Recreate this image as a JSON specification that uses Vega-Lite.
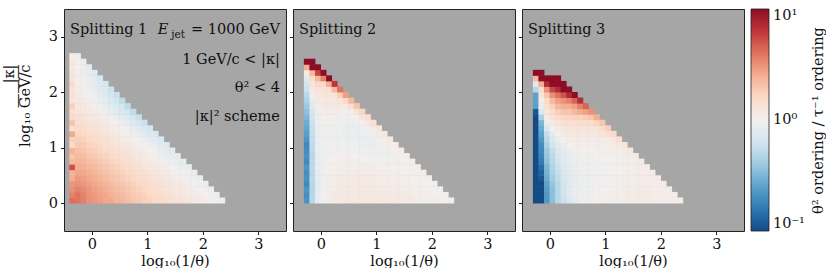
{
"$schema":"https://vega.github.io/schema/vega-lite/v6.json",
"padding":{"left":0,"top":8,"right":0,"bottom":0},
"background":"white",
"config":{"font":"DejaVu Serif","view":{"stroke":"#222","strokeWidth":1,"fill":"#a6a6a6"},
"axis":{"labelFont":"DejaVu Serif","titleFont":"DejaVu Serif","labelFontSize":14.5,"titleFontSize":14.5,"titleFontWeight":"normal","labelColor":"#111","titleColor":"#111","tickColor":"#222","tickSize":3.5,"domain":false,"grid":false,"labelPadding":3},
"text":{"font":"DejaVu Serif","fontSize":14.5,"color":"#111"}},
"datasets":{
"s1":[
{"x":-0.35,"y":0.05,"lr":0.62},{"x":-0.25,"y":0.05,"lr":0.6},{"x":-0.15,"y":0.05,"lr":0.56},{"x":-0.05,"y":0.05,"lr":0.5},{"x":0.05,"y":0.05,"lr":0.48},{"x":0.15,"y":0.05,"lr":0.46},{"x":0.25,"y":0.05,"lr":0.42},{"x":0.35,"y":0.05,"lr":0.42},{"x":0.45,"y":0.05,"lr":0.38},{"x":0.55,"y":0.05,"lr":0.36},{"x":0.65,"y":0.05,"lr":0.33},{"x":0.75,"y":0.05,"lr":0.3},{"x":0.85,"y":0.05,"lr":0.28},{"x":0.95,"y":0.05,"lr":0.25},{"x":1.05,"y":0.05,"lr":0.24},{"x":1.15,"y":0.05,"lr":0.2},{"x":1.25,"y":0.05,"lr":0.18},{"x":1.35,"y":0.05,"lr":0.16},{"x":1.45,"y":0.05,"lr":0.14},{"x":1.55,"y":0.05,"lr":0.12},{"x":1.65,"y":0.05,"lr":0.1},{"x":1.75,"y":0.05,"lr":0.08},{"x":1.85,"y":0.05,"lr":0.06},{"x":1.95,"y":0.05,"lr":0.04},{"x":2.05,"y":0.05,"lr":0.03},{"x":2.15,"y":0.05,"lr":0.01},{"x":2.25,"y":0.05,"lr":0},{"x":2.35,"y":0.05,"lr":-0.03},
{"x":-0.35,"y":0.15,"lr":0.55},{"x":-0.25,"y":0.15,"lr":0.6},{"x":-0.15,"y":0.15,"lr":0.55},{"x":-0.05,"y":0.15,"lr":0.5},{"x":0.05,"y":0.15,"lr":0.47},{"x":0.15,"y":0.15,"lr":0.44},{"x":0.25,"y":0.15,"lr":0.42},{"x":0.35,"y":0.15,"lr":0.38},{"x":0.45,"y":0.15,"lr":0.36},{"x":0.55,"y":0.15,"lr":0.34},{"x":0.65,"y":0.15,"lr":0.31},{"x":0.75,"y":0.15,"lr":0.28},{"x":0.85,"y":0.15,"lr":0.26},{"x":0.95,"y":0.15,"lr":0.24},{"x":1.05,"y":0.15,"lr":0.21},{"x":1.15,"y":0.15,"lr":0.19},{"x":1.25,"y":0.15,"lr":0.17},{"x":1.35,"y":0.15,"lr":0.14},{"x":1.45,"y":0.15,"lr":0.12},{"x":1.55,"y":0.15,"lr":0.1},{"x":1.65,"y":0.15,"lr":0.08},{"x":1.75,"y":0.15,"lr":0.06},{"x":1.85,"y":0.15,"lr":0.04},{"x":1.95,"y":0.15,"lr":0.02},{"x":2.05,"y":0.15,"lr":0},{"x":2.15,"y":0.15,"lr":-0.01},{"x":2.25,"y":0.15,"lr":-0.03},
{"x":-0.35,"y":0.25,"lr":0.5},{"x":-0.25,"y":0.25,"lr":0.55},{"x":-0.15,"y":0.25,"lr":0.52},{"x":-0.05,"y":0.25,"lr":0.48},{"x":0.05,"y":0.25,"lr":0.45},{"x":0.15,"y":0.25,"lr":0.42},{"x":0.25,"y":0.25,"lr":0.4},{"x":0.35,"y":0.25,"lr":0.36},{"x":0.45,"y":0.25,"lr":0.34},{"x":0.55,"y":0.25,"lr":0.31},{"x":0.65,"y":0.25,"lr":0.29},{"x":0.75,"y":0.25,"lr":0.26},{"x":0.85,"y":0.25,"lr":0.24},{"x":0.95,"y":0.25,"lr":0.21},{"x":1.05,"y":0.25,"lr":0.19},{"x":1.15,"y":0.25,"lr":0.17},{"x":1.25,"y":0.25,"lr":0.14},{"x":1.35,"y":0.25,"lr":0.12},{"x":1.45,"y":0.25,"lr":0.1},{"x":1.55,"y":0.25,"lr":0.08},{"x":1.65,"y":0.25,"lr":0.06},{"x":1.75,"y":0.25,"lr":0.04},{"x":1.85,"y":0.25,"lr":0.02},{"x":1.95,"y":0.25,"lr":0},{"x":2.05,"y":0.25,"lr":-0.03},{"x":2.15,"y":0.25,"lr":-0.04},
{"x":-0.35,"y":0.35,"lr":0.48},{"x":-0.25,"y":0.35,"lr":0.5},{"x":-0.15,"y":0.35,"lr":0.48},{"x":-0.05,"y":0.35,"lr":0.45},{"x":0.05,"y":0.35,"lr":0.42},{"x":0.15,"y":0.35,"lr":0.4},{"x":0.25,"y":0.35,"lr":0.37},{"x":0.35,"y":0.35,"lr":0.34},{"x":0.45,"y":0.35,"lr":0.31},{"x":0.55,"y":0.35,"lr":0.29},{"x":0.65,"y":0.35,"lr":0.26},{"x":0.75,"y":0.35,"lr":0.24},{"x":0.85,"y":0.35,"lr":0.21},{"x":0.95,"y":0.35,"lr":0.19},{"x":1.05,"y":0.35,"lr":0.17},{"x":1.15,"y":0.35,"lr":0.14},{"x":1.25,"y":0.35,"lr":0.12},{"x":1.35,"y":0.35,"lr":0.1},{"x":1.45,"y":0.35,"lr":0.08},{"x":1.55,"y":0.35,"lr":0.06},{"x":1.65,"y":0.35,"lr":0.04},{"x":1.75,"y":0.35,"lr":0.02},{"x":1.85,"y":0.35,"lr":0},{"x":1.95,"y":0.35,"lr":-0.03},{"x":2.05,"y":0.35,"lr":-0.04},
{"x":-0.35,"y":0.45,"lr":0.4},{"x":-0.25,"y":0.45,"lr":0.47},{"x":-0.15,"y":0.45,"lr":0.45},{"x":-0.05,"y":0.45,"lr":0.42},{"x":0.05,"y":0.45,"lr":0.4},{"x":0.15,"y":0.45,"lr":0.37},{"x":0.25,"y":0.45,"lr":0.34},{"x":0.35,"y":0.45,"lr":0.31},{"x":0.45,"y":0.45,"lr":0.29},{"x":0.55,"y":0.45,"lr":0.26},{"x":0.65,"y":0.45,"lr":0.24},{"x":0.75,"y":0.45,"lr":0.21},{"x":0.85,"y":0.45,"lr":0.19},{"x":0.95,"y":0.45,"lr":0.16},{"x":1.05,"y":0.45,"lr":0.14},{"x":1.15,"y":0.45,"lr":0.12},{"x":1.25,"y":0.45,"lr":0.1},{"x":1.35,"y":0.45,"lr":0.07},{"x":1.45,"y":0.45,"lr":0.05},{"x":1.55,"y":0.45,"lr":0.03},{"x":1.65,"y":0.45,"lr":0.01},{"x":1.75,"y":0.45,"lr":-0.01},{"x":1.85,"y":0.45,"lr":-0.04},{"x":1.95,"y":0.45,"lr":-0.05},
{"x":-0.35,"y":0.55,"lr":0.38},{"x":-0.25,"y":0.55,"lr":0.43},{"x":-0.15,"y":0.55,"lr":0.42},{"x":-0.05,"y":0.55,"lr":0.39},{"x":0.05,"y":0.55,"lr":0.37},{"x":0.15,"y":0.55,"lr":0.34},{"x":0.25,"y":0.55,"lr":0.31},{"x":0.35,"y":0.55,"lr":0.29},{"x":0.45,"y":0.55,"lr":0.26},{"x":0.55,"y":0.55,"lr":0.24},{"x":0.65,"y":0.55,"lr":0.21},{"x":0.75,"y":0.55,"lr":0.19},{"x":0.85,"y":0.55,"lr":0.16},{"x":0.95,"y":0.55,"lr":0.14},{"x":1.05,"y":0.55,"lr":0.12},{"x":1.15,"y":0.55,"lr":0.09},{"x":1.25,"y":0.55,"lr":0.07},{"x":1.35,"y":0.55,"lr":0.05},{"x":1.45,"y":0.55,"lr":0.03},{"x":1.55,"y":0.55,"lr":0.01},{"x":1.65,"y":0.55,"lr":-0.01},{"x":1.75,"y":0.55,"lr":-0.04},{"x":1.85,"y":0.55,"lr":-0.07},
{"x":-0.35,"y":0.65,"lr":0.72},{"x":-0.25,"y":0.65,"lr":0.4},{"x":-0.15,"y":0.65,"lr":0.39},{"x":-0.05,"y":0.65,"lr":0.36},{"x":0.05,"y":0.65,"lr":0.34},{"x":0.15,"y":0.65,"lr":0.31},{"x":0.25,"y":0.65,"lr":0.29},{"x":0.35,"y":0.65,"lr":0.26},{"x":0.45,"y":0.65,"lr":0.24},{"x":0.55,"y":0.65,"lr":0.21},{"x":0.65,"y":0.65,"lr":0.19},{"x":0.75,"y":0.65,"lr":0.16},{"x":0.85,"y":0.65,"lr":0.14},{"x":0.95,"y":0.65,"lr":0.11},{"x":1.05,"y":0.65,"lr":0.09},{"x":1.15,"y":0.65,"lr":0.07},{"x":1.25,"y":0.65,"lr":0.04},{"x":1.35,"y":0.65,"lr":0.02},{"x":1.45,"y":0.65,"lr":0},{"x":1.55,"y":0.65,"lr":-0.03},{"x":1.65,"y":0.65,"lr":-0.05},{"x":1.75,"y":0.65,"lr":-0.07},
{"x":-0.35,"y":0.75,"lr":0.35},{"x":-0.25,"y":0.75,"lr":0.37},{"x":-0.15,"y":0.75,"lr":0.36},{"x":-0.05,"y":0.75,"lr":0.33},{"x":0.05,"y":0.75,"lr":0.31},{"x":0.15,"y":0.75,"lr":0.28},{"x":0.25,"y":0.75,"lr":0.26},{"x":0.35,"y":0.75,"lr":0.23},{"x":0.45,"y":0.75,"lr":0.21},{"x":0.55,"y":0.75,"lr":0.18},{"x":0.65,"y":0.75,"lr":0.16},{"x":0.75,"y":0.75,"lr":0.13},{"x":0.85,"y":0.75,"lr":0.11},{"x":0.95,"y":0.75,"lr":0.08},{"x":1.05,"y":0.75,"lr":0.06},{"x":1.15,"y":0.75,"lr":0.04},{"x":1.25,"y":0.75,"lr":0.01},{"x":1.35,"y":0.75,"lr":-0.01},{"x":1.45,"y":0.75,"lr":-0.04},{"x":1.55,"y":0.75,"lr":-0.07},{"x":1.65,"y":0.75,"lr":-0.08},
{"x":-0.35,"y":0.85,"lr":0.3},{"x":-0.25,"y":0.85,"lr":0.34},{"x":-0.15,"y":0.85,"lr":0.33},{"x":-0.05,"y":0.85,"lr":0.3},{"x":0.05,"y":0.85,"lr":0.28},{"x":0.15,"y":0.85,"lr":0.25},{"x":0.25,"y":0.85,"lr":0.23},{"x":0.35,"y":0.85,"lr":0.2},{"x":0.45,"y":0.85,"lr":0.18},{"x":0.55,"y":0.85,"lr":0.15},{"x":0.65,"y":0.85,"lr":0.13},{"x":0.75,"y":0.85,"lr":0.1},{"x":0.85,"y":0.85,"lr":0.08},{"x":0.95,"y":0.85,"lr":0.05},{"x":1.05,"y":0.85,"lr":0.03},{"x":1.15,"y":0.85,"lr":0.01},{"x":1.25,"y":0.85,"lr":-0.03},{"x":1.35,"y":0.85,"lr":-0.05},{"x":1.45,"y":0.85,"lr":-0.08},{"x":1.55,"y":0.85,"lr":-0.09},
{"x":-0.35,"y":0.95,"lr":0.38},{"x":-0.25,"y":0.95,"lr":0.31},{"x":-0.15,"y":0.95,"lr":0.3},{"x":-0.05,"y":0.95,"lr":0.27},{"x":0.05,"y":0.95,"lr":0.25},{"x":0.15,"y":0.95,"lr":0.22},{"x":0.25,"y":0.95,"lr":0.2},{"x":0.35,"y":0.95,"lr":0.17},{"x":0.45,"y":0.95,"lr":0.15},{"x":0.55,"y":0.95,"lr":0.12},{"x":0.65,"y":0.95,"lr":0.1},{"x":0.75,"y":0.95,"lr":0.07},{"x":0.85,"y":0.95,"lr":0.05},{"x":0.95,"y":0.95,"lr":0.02},{"x":1.05,"y":0.95,"lr":0},{"x":1.15,"y":0.95,"lr":-0.03},{"x":1.25,"y":0.95,"lr":-0.07},{"x":1.35,"y":0.95,"lr":-0.09},{"x":1.45,"y":0.95,"lr":-0.11},
{"x":-0.35,"y":1.05,"lr":0.2},{"x":-0.25,"y":1.05,"lr":0.28},{"x":-0.15,"y":1.05,"lr":0.27},{"x":-0.05,"y":1.05,"lr":0.24},{"x":0.05,"y":1.05,"lr":0.22},{"x":0.15,"y":1.05,"lr":0.19},{"x":0.25,"y":1.05,"lr":0.17},{"x":0.35,"y":1.05,"lr":0.14},{"x":0.45,"y":1.05,"lr":0.12},{"x":0.55,"y":1.05,"lr":0.09},{"x":0.65,"y":1.05,"lr":0.07},{"x":0.75,"y":1.05,"lr":0.04},{"x":0.85,"y":1.05,"lr":0.02},{"x":0.95,"y":1.05,"lr":-0.01},{"x":1.05,"y":1.05,"lr":-0.04},{"x":1.15,"y":1.05,"lr":-0.07},{"x":1.25,"y":1.05,"lr":-0.11},{"x":1.35,"y":1.05,"lr":-0.12},
{"x":-0.35,"y":1.15,"lr":0.25},{"x":-0.25,"y":1.15,"lr":0.25},{"x":-0.15,"y":1.15,"lr":0.24},{"x":-0.05,"y":1.15,"lr":0.21},{"x":0.05,"y":1.15,"lr":0.19},{"x":0.15,"y":1.15,"lr":0.16},{"x":0.25,"y":1.15,"lr":0.14},{"x":0.35,"y":1.15,"lr":0.11},{"x":0.45,"y":1.15,"lr":0.09},{"x":0.55,"y":1.15,"lr":0.06},{"x":0.65,"y":1.15,"lr":0.04},{"x":0.75,"y":1.15,"lr":0.01},{"x":0.85,"y":1.15,"lr":-0.01},{"x":0.95,"y":1.15,"lr":-0.05},{"x":1.05,"y":1.15,"lr":-0.08},{"x":1.15,"y":1.15,"lr":-0.12},{"x":1.25,"y":1.15,"lr":-0.14},
{"x":-0.35,"y":1.25,"lr":0.42},{"x":-0.25,"y":1.25,"lr":0.22},{"x":-0.15,"y":1.25,"lr":0.21},{"x":-0.05,"y":1.25,"lr":0.18},{"x":0.05,"y":1.25,"lr":0.16},{"x":0.15,"y":1.25,"lr":0.13},{"x":0.25,"y":1.25,"lr":0.11},{"x":0.35,"y":1.25,"lr":0.08},{"x":0.45,"y":1.25,"lr":0.06},{"x":0.55,"y":1.25,"lr":0.03},{"x":0.65,"y":1.25,"lr":0.01},{"x":0.75,"y":1.25,"lr":-0.03},{"x":0.85,"y":1.25,"lr":-0.05},{"x":0.95,"y":1.25,"lr":-0.09},{"x":1.05,"y":1.25,"lr":-0.14},{"x":1.15,"y":1.25,"lr":-0.16},
{"x":-0.35,"y":1.35,"lr":0.15},{"x":-0.25,"y":1.35,"lr":0.2},{"x":-0.15,"y":1.35,"lr":0.18},{"x":-0.05,"y":1.35,"lr":0.15},{"x":0.05,"y":1.35,"lr":0.13},{"x":0.15,"y":1.35,"lr":0.1},{"x":0.25,"y":1.35,"lr":0.08},{"x":0.35,"y":1.35,"lr":0.05},{"x":0.45,"y":1.35,"lr":0.03},{"x":0.55,"y":1.35,"lr":0},{"x":0.65,"y":1.35,"lr":-0.03},{"x":0.75,"y":1.35,"lr":-0.07},{"x":0.85,"y":1.35,"lr":-0.11},{"x":0.95,"y":1.35,"lr":-0.15},{"x":1.05,"y":1.35,"lr":-0.19},
{"x":-0.35,"y":1.45,"lr":0.3},{"x":-0.25,"y":1.45,"lr":0.17},{"x":-0.15,"y":1.45,"lr":0.15},{"x":-0.05,"y":1.45,"lr":0.12},{"x":0.05,"y":1.45,"lr":0.1},{"x":0.15,"y":1.45,"lr":0.07},{"x":0.25,"y":1.45,"lr":0.05},{"x":0.35,"y":1.45,"lr":0.02},{"x":0.45,"y":1.45,"lr":0},{"x":0.55,"y":1.45,"lr":-0.04},{"x":0.65,"y":1.45,"lr":-0.08},{"x":0.75,"y":1.45,"lr":-0.12},{"x":0.85,"y":1.45,"lr":-0.16},{"x":0.95,"y":1.45,"lr":-0.22},
{"x":-0.35,"y":1.55,"lr":0.2},{"x":-0.25,"y":1.55,"lr":0.14},{"x":-0.15,"y":1.55,"lr":0.12},{"x":-0.05,"y":1.55,"lr":0.09},{"x":0.05,"y":1.55,"lr":0.07},{"x":0.15,"y":1.55,"lr":0.04},{"x":0.25,"y":1.55,"lr":0.02},{"x":0.35,"y":1.55,"lr":-0.01},{"x":0.45,"y":1.55,"lr":-0.05},{"x":0.55,"y":1.55,"lr":-0.09},{"x":0.65,"y":1.55,"lr":-0.14},{"x":0.75,"y":1.55,"lr":-0.18},{"x":0.85,"y":1.55,"lr":-0.24},
{"x":-0.35,"y":1.65,"lr":0.15},{"x":-0.25,"y":1.65,"lr":0.11},{"x":-0.15,"y":1.65,"lr":0.09},{"x":-0.05,"y":1.65,"lr":0.06},{"x":0.05,"y":1.65,"lr":0.04},{"x":0.15,"y":1.65,"lr":0.01},{"x":0.25,"y":1.65,"lr":-0.03},{"x":0.35,"y":1.65,"lr":-0.07},{"x":0.45,"y":1.65,"lr":-0.11},{"x":0.55,"y":1.65,"lr":-0.15},{"x":0.65,"y":1.65,"lr":-0.19},{"x":0.75,"y":1.65,"lr":-0.27},
{"x":-0.35,"y":1.75,"lr":0.25},{"x":-0.25,"y":1.75,"lr":0.09},{"x":-0.15,"y":1.75,"lr":0.07},{"x":-0.05,"y":1.75,"lr":0.04},{"x":0.05,"y":1.75,"lr":0.01},{"x":0.15,"y":1.75,"lr":-0.03},{"x":0.25,"y":1.75,"lr":-0.07},{"x":0.35,"y":1.75,"lr":-0.11},{"x":0.45,"y":1.75,"lr":-0.15},{"x":0.55,"y":1.75,"lr":-0.19},{"x":0.65,"y":1.75,"lr":-0.27},
{"x":-0.35,"y":1.85,"lr":0.1},{"x":-0.25,"y":1.85,"lr":0.07},{"x":-0.15,"y":1.85,"lr":0.05},{"x":-0.05,"y":1.85,"lr":0.02},{"x":0.05,"y":1.85,"lr":-0.01},{"x":0.15,"y":1.85,"lr":-0.05},{"x":0.25,"y":1.85,"lr":-0.09},{"x":0.35,"y":1.85,"lr":-0.14},{"x":0.45,"y":1.85,"lr":-0.19},{"x":0.55,"y":1.85,"lr":-0.27},
{"x":-0.35,"y":1.95,"lr":0.15},{"x":-0.25,"y":1.95,"lr":0.05},{"x":-0.15,"y":1.95,"lr":0.03},{"x":-0.05,"y":1.95,"lr":0},{"x":0.05,"y":1.95,"lr":-0.04},{"x":0.15,"y":1.95,"lr":-0.08},{"x":0.25,"y":1.95,"lr":-0.12},{"x":0.35,"y":1.95,"lr":-0.18},{"x":0.45,"y":1.95,"lr":-0.24},
{"x":-0.35,"y":2.05,"lr":0.1},{"x":-0.25,"y":2.05,"lr":0.04},{"x":-0.15,"y":2.05,"lr":0.01},{"x":-0.05,"y":2.05,"lr":-0.03},{"x":0.05,"y":2.05,"lr":-0.07},{"x":0.15,"y":2.05,"lr":-0.11},{"x":0.25,"y":2.05,"lr":-0.15},{"x":0.35,"y":2.05,"lr":-0.22},
{"x":-0.35,"y":2.15,"lr":0.2},{"x":-0.25,"y":2.15,"lr":0.03},{"x":-0.15,"y":2.15,"lr":0},{"x":-0.05,"y":2.15,"lr":-0.04},{"x":0.05,"y":2.15,"lr":-0.08},{"x":0.15,"y":2.15,"lr":-0.12},{"x":0.25,"y":2.15,"lr":-0.19},
{"x":-0.35,"y":2.25,"lr":0.1},{"x":-0.25,"y":2.25,"lr":0.02},{"x":-0.15,"y":2.25,"lr":-0.01},{"x":-0.05,"y":2.25,"lr":-0.05},{"x":0.05,"y":2.25,"lr":-0.09},{"x":0.15,"y":2.25,"lr":-0.16},
{"x":-0.35,"y":2.35,"lr":0.12},{"x":-0.25,"y":2.35,"lr":0.01},{"x":-0.15,"y":2.35,"lr":-0.03},{"x":-0.05,"y":2.35,"lr":-0.07},{"x":0.05,"y":2.35,"lr":-0.12},
{"x":-0.35,"y":2.45,"lr":0.05},{"x":-0.25,"y":2.45,"lr":0},{"x":-0.15,"y":2.45,"lr":-0.04},{"x":-0.05,"y":2.45,"lr":-0.09},
{"x":-0.35,"y":2.55,"lr":0.08},{"x":-0.25,"y":2.55,"lr":-0.01},{"x":-0.15,"y":2.55,"lr":-0.05},
{"x":-0.35,"y":2.65,"lr":0.02},{"x":-0.25,"y":2.65,"lr":-0.04}
],
"s2":[
{"x":-0.25,"y":0.05,"lr":-0.68},{"x":-0.15,"y":0.05,"lr":-0.3},{"x":-0.05,"y":0.05,"lr":-0.08},{"x":0.05,"y":0.05,"lr":0},{"x":0.15,"y":0.05,"lr":0.03},{"x":0.25,"y":0.05,"lr":0.05},{"x":0.35,"y":0.05,"lr":0.06},{"x":0.45,"y":0.05,"lr":0.07},{"x":0.55,"y":0.05,"lr":0.07},{"x":0.65,"y":0.05,"lr":0.08},{"x":0.75,"y":0.05,"lr":0.07},{"x":0.85,"y":0.05,"lr":0.08},{"x":0.95,"y":0.05,"lr":0.07},{"x":1.05,"y":0.05,"lr":0.07},{"x":1.15,"y":0.05,"lr":0.06},{"x":1.25,"y":0.05,"lr":0.07},{"x":1.35,"y":0.05,"lr":0.06},{"x":1.45,"y":0.05,"lr":0.05},{"x":1.55,"y":0.05,"lr":0.06},{"x":1.65,"y":0.05,"lr":0.04},{"x":1.75,"y":0.05,"lr":0.03},{"x":1.85,"y":0.05,"lr":0.03},{"x":1.95,"y":0.05,"lr":0.02},{"x":2.05,"y":0.05,"lr":0.01},{"x":2.15,"y":0.05,"lr":0.01},{"x":2.25,"y":0.05,"lr":0},{"x":2.35,"y":0.05,"lr":0.01},
{"x":-0.25,"y":0.15,"lr":-0.7},{"x":-0.15,"y":0.15,"lr":-0.3},{"x":-0.05,"y":0.15,"lr":-0.08},{"x":0.05,"y":0.15,"lr":0},{"x":0.15,"y":0.15,"lr":0.03},{"x":0.25,"y":0.15,"lr":0.05},{"x":0.35,"y":0.15,"lr":0.06},{"x":0.45,"y":0.15,"lr":0.07},{"x":0.55,"y":0.15,"lr":0.08},{"x":0.65,"y":0.15,"lr":0.07},{"x":0.75,"y":0.15,"lr":0.08},{"x":0.85,"y":0.15,"lr":0.07},{"x":0.95,"y":0.15,"lr":0.08},{"x":1.05,"y":0.15,"lr":0.06},{"x":1.15,"y":0.15,"lr":0.07},{"x":1.25,"y":0.15,"lr":0.06},{"x":1.35,"y":0.15,"lr":0.05},{"x":1.45,"y":0.15,"lr":0.05},{"x":1.55,"y":0.15,"lr":0.04},{"x":1.65,"y":0.15,"lr":0.03},{"x":1.75,"y":0.15,"lr":0.03},{"x":1.85,"y":0.15,"lr":0.02},{"x":1.95,"y":0.15,"lr":0.01},{"x":2.05,"y":0.15,"lr":0},{"x":2.15,"y":0.15,"lr":0},{"x":2.25,"y":0.15,"lr":0.01},
{"x":-0.25,"y":0.25,"lr":-0.66},{"x":-0.15,"y":0.25,"lr":-0.31},{"x":-0.05,"y":0.25,"lr":-0.09},{"x":0.05,"y":0.25,"lr":-0.01},{"x":0.15,"y":0.25,"lr":0.02},{"x":0.25,"y":0.25,"lr":0.04},{"x":0.35,"y":0.25,"lr":0.06},{"x":0.45,"y":0.25,"lr":0.06},{"x":0.55,"y":0.25,"lr":0.07},{"x":0.65,"y":0.25,"lr":0.08},{"x":0.75,"y":0.25,"lr":0.06},{"x":0.85,"y":0.25,"lr":0.07},{"x":0.95,"y":0.25,"lr":0.06},{"x":1.05,"y":0.25,"lr":0.06},{"x":1.15,"y":0.25,"lr":0.05},{"x":1.25,"y":0.25,"lr":0.05},{"x":1.35,"y":0.25,"lr":0.04},{"x":1.45,"y":0.25,"lr":0.04},{"x":1.55,"y":0.25,"lr":0.03},{"x":1.65,"y":0.25,"lr":0.02},{"x":1.75,"y":0.25,"lr":0.02},{"x":1.85,"y":0.25,"lr":0.01},{"x":1.95,"y":0.25,"lr":0},{"x":2.05,"y":0.25,"lr":0},{"x":2.15,"y":0.25,"lr":0.01},
{"x":-0.25,"y":0.35,"lr":-0.72},{"x":-0.15,"y":0.35,"lr":-0.3},{"x":-0.05,"y":0.35,"lr":-0.09},{"x":0.05,"y":0.35,"lr":-0.01},{"x":0.15,"y":0.35,"lr":0.02},{"x":0.25,"y":0.35,"lr":0.04},{"x":0.35,"y":0.35,"lr":0.05},{"x":0.45,"y":0.35,"lr":0.06},{"x":0.55,"y":0.35,"lr":0.06},{"x":0.65,"y":0.35,"lr":0.07},{"x":0.75,"y":0.35,"lr":0.06},{"x":0.85,"y":0.35,"lr":0.06},{"x":0.95,"y":0.35,"lr":0.05},{"x":1.05,"y":0.35,"lr":0.05},{"x":1.15,"y":0.35,"lr":0.04},{"x":1.25,"y":0.35,"lr":0.04},{"x":1.35,"y":0.35,"lr":0.03},{"x":1.45,"y":0.35,"lr":0.03},{"x":1.55,"y":0.35,"lr":0.02},{"x":1.65,"y":0.35,"lr":0.01},{"x":1.75,"y":0.35,"lr":0.01},{"x":1.85,"y":0.35,"lr":0},{"x":1.95,"y":0.35,"lr":0},{"x":2.05,"y":0.35,"lr":0.01},
{"x":-0.25,"y":0.45,"lr":-0.68},{"x":-0.15,"y":0.45,"lr":-0.29},{"x":-0.05,"y":0.45,"lr":-0.08},{"x":0.05,"y":0.45,"lr":-0.02},{"x":0.15,"y":0.45,"lr":0.01},{"x":0.25,"y":0.45,"lr":0.03},{"x":0.35,"y":0.45,"lr":0.04},{"x":0.45,"y":0.45,"lr":0.05},{"x":0.55,"y":0.45,"lr":0.05},{"x":0.65,"y":0.45,"lr":0.06},{"x":0.75,"y":0.45,"lr":0.05},{"x":0.85,"y":0.45,"lr":0.05},{"x":0.95,"y":0.45,"lr":0.04},{"x":1.05,"y":0.45,"lr":0.04},{"x":1.15,"y":0.45,"lr":0.03},{"x":1.25,"y":0.45,"lr":0.03},{"x":1.35,"y":0.45,"lr":0.02},{"x":1.45,"y":0.45,"lr":0.02},{"x":1.55,"y":0.45,"lr":0.01},{"x":1.65,"y":0.45,"lr":0},{"x":1.75,"y":0.45,"lr":0},{"x":1.85,"y":0.45,"lr":0.01},{"x":1.95,"y":0.45,"lr":0.02},
{"x":-0.25,"y":0.55,"lr":-0.7},{"x":-0.15,"y":0.55,"lr":-0.3},{"x":-0.05,"y":0.55,"lr":-0.08},{"x":0.05,"y":0.55,"lr":-0.02},{"x":0.15,"y":0.55,"lr":0.01},{"x":0.25,"y":0.55,"lr":0.02},{"x":0.35,"y":0.55,"lr":0.03},{"x":0.45,"y":0.55,"lr":0.04},{"x":0.55,"y":0.55,"lr":0.04},{"x":0.65,"y":0.55,"lr":0.05},{"x":0.75,"y":0.55,"lr":0.04},{"x":0.85,"y":0.55,"lr":0.04},{"x":0.95,"y":0.55,"lr":0.03},{"x":1.05,"y":0.55,"lr":0.03},{"x":1.15,"y":0.55,"lr":0.02},{"x":1.25,"y":0.55,"lr":0.02},{"x":1.35,"y":0.55,"lr":0.01},{"x":1.45,"y":0.55,"lr":0.01},{"x":1.55,"y":0.55,"lr":0},{"x":1.65,"y":0.55,"lr":0},{"x":1.75,"y":0.55,"lr":0.01},{"x":1.85,"y":0.55,"lr":0.02},
{"x":-0.25,"y":0.65,"lr":-0.66},{"x":-0.15,"y":0.65,"lr":-0.28},{"x":-0.05,"y":0.65,"lr":-0.08},{"x":0.05,"y":0.65,"lr":-0.02},{"x":0.15,"y":0.65,"lr":0},{"x":0.25,"y":0.65,"lr":0.01},{"x":0.35,"y":0.65,"lr":0.02},{"x":0.45,"y":0.65,"lr":0.03},{"x":0.55,"y":0.65,"lr":0.03},{"x":0.65,"y":0.65,"lr":0.03},{"x":0.75,"y":0.65,"lr":0.03},{"x":0.85,"y":0.65,"lr":0.02},{"x":0.95,"y":0.65,"lr":0.02},{"x":1.05,"y":0.65,"lr":0.01},{"x":1.15,"y":0.65,"lr":0.01},{"x":1.25,"y":0.65,"lr":0},{"x":1.35,"y":0.65,"lr":0},{"x":1.45,"y":0.65,"lr":-0.01},{"x":1.55,"y":0.65,"lr":-0.01},{"x":1.65,"y":0.65,"lr":0.01},{"x":1.75,"y":0.65,"lr":0.02},
{"x":-0.25,"y":0.75,"lr":-0.72},{"x":-0.15,"y":0.75,"lr":-0.29},{"x":-0.05,"y":0.75,"lr":-0.07},{"x":0.05,"y":0.75,"lr":-0.03},{"x":0.15,"y":0.75,"lr":0},{"x":0.25,"y":0.75,"lr":0.01},{"x":0.35,"y":0.75,"lr":0.01},{"x":0.45,"y":0.75,"lr":0.02},{"x":0.55,"y":0.75,"lr":0.02},{"x":0.65,"y":0.75,"lr":0.02},{"x":0.75,"y":0.75,"lr":0.01},{"x":0.85,"y":0.75,"lr":0.01},{"x":0.95,"y":0.75,"lr":0},{"x":1.05,"y":0.75,"lr":0},{"x":1.15,"y":0.75,"lr":-0.01},{"x":1.25,"y":0.75,"lr":-0.01},{"x":1.35,"y":0.75,"lr":-0.02},{"x":1.45,"y":0.75,"lr":-0.02},{"x":1.55,"y":0.75,"lr":0},{"x":1.65,"y":0.75,"lr":0.02},
{"x":-0.25,"y":0.85,"lr":-0.68},{"x":-0.15,"y":0.85,"lr":-0.3},{"x":-0.05,"y":0.85,"lr":-0.07},{"x":0.05,"y":0.85,"lr":-0.03},{"x":0.15,"y":0.85,"lr":-0.01},{"x":0.25,"y":0.85,"lr":0},{"x":0.35,"y":0.85,"lr":0},{"x":0.45,"y":0.85,"lr":0.01},{"x":0.55,"y":0.85,"lr":0},{"x":0.65,"y":0.85,"lr":0},{"x":0.75,"y":0.85,"lr":-0.01},{"x":0.85,"y":0.85,"lr":-0.01},{"x":0.95,"y":0.85,"lr":-0.02},{"x":1.05,"y":0.85,"lr":-0.02},{"x":1.15,"y":0.85,"lr":-0.03},{"x":1.25,"y":0.85,"lr":-0.03},{"x":1.35,"y":0.85,"lr":-0.03},{"x":1.45,"y":0.85,"lr":0},{"x":1.55,"y":0.85,"lr":0.02},
{"x":-0.25,"y":0.95,"lr":-0.7},{"x":-0.15,"y":0.95,"lr":-0.28},{"x":-0.05,"y":0.95,"lr":-0.07},{"x":0.05,"y":0.95,"lr":-0.03},{"x":0.15,"y":0.95,"lr":-0.01},{"x":0.25,"y":0.95,"lr":-0.01},{"x":0.35,"y":0.95,"lr":-0.01},{"x":0.45,"y":0.95,"lr":-0.02},{"x":0.55,"y":0.95,"lr":-0.02},{"x":0.65,"y":0.95,"lr":-0.03},{"x":0.75,"y":0.95,"lr":-0.03},{"x":0.85,"y":0.95,"lr":-0.03},{"x":0.95,"y":0.95,"lr":-0.04},{"x":1.05,"y":0.95,"lr":-0.04},{"x":1.15,"y":0.95,"lr":-0.04},{"x":1.25,"y":0.95,"lr":-0.02},{"x":1.35,"y":0.95,"lr":0.01},{"x":1.45,"y":0.95,"lr":0.03},
{"x":-0.25,"y":1.05,"lr":-0.72},{"x":-0.15,"y":1.05,"lr":-0.27},{"x":-0.05,"y":1.05,"lr":-0.07},{"x":0.05,"y":1.05,"lr":-0.03},{"x":0.15,"y":1.05,"lr":-0.02},{"x":0.25,"y":1.05,"lr":-0.02},{"x":0.35,"y":1.05,"lr":-0.02},{"x":0.45,"y":1.05,"lr":-0.03},{"x":0.55,"y":1.05,"lr":-0.03},{"x":0.65,"y":1.05,"lr":-0.04},{"x":0.75,"y":1.05,"lr":-0.04},{"x":0.85,"y":1.05,"lr":-0.05},{"x":0.95,"y":1.05,"lr":-0.05},{"x":1.05,"y":1.05,"lr":-0.04},{"x":1.15,"y":1.05,"lr":-0.02},{"x":1.25,"y":1.05,"lr":0.02},{"x":1.35,"y":1.05,"lr":0.04},
{"x":-0.25,"y":1.15,"lr":-0.67},{"x":-0.15,"y":1.15,"lr":-0.26},{"x":-0.05,"y":1.15,"lr":-0.06},{"x":0.05,"y":1.15,"lr":-0.03},{"x":0.15,"y":1.15,"lr":-0.02},{"x":0.25,"y":1.15,"lr":-0.02},{"x":0.35,"y":1.15,"lr":-0.03},{"x":0.45,"y":1.15,"lr":-0.03},{"x":0.55,"y":1.15,"lr":-0.04},{"x":0.65,"y":1.15,"lr":-0.04},{"x":0.75,"y":1.15,"lr":-0.05},{"x":0.85,"y":1.15,"lr":-0.05},{"x":0.95,"y":1.15,"lr":-0.04},{"x":1.05,"y":1.15,"lr":-0.02},{"x":1.15,"y":1.15,"lr":0.03},{"x":1.25,"y":1.15,"lr":0.06},
{"x":-0.25,"y":1.25,"lr":-0.62},{"x":-0.15,"y":1.25,"lr":-0.25},{"x":-0.05,"y":1.25,"lr":-0.06},{"x":0.05,"y":1.25,"lr":-0.02},{"x":0.15,"y":1.25,"lr":-0.02},{"x":0.25,"y":1.25,"lr":-0.03},{"x":0.35,"y":1.25,"lr":-0.03},{"x":0.45,"y":1.25,"lr":-0.04},{"x":0.55,"y":1.25,"lr":-0.04},{"x":0.65,"y":1.25,"lr":-0.05},{"x":0.75,"y":1.25,"lr":-0.05},{"x":0.85,"y":1.25,"lr":-0.04},{"x":0.95,"y":1.25,"lr":-0.02},{"x":1.05,"y":1.25,"lr":0.04},{"x":1.15,"y":1.25,"lr":0.08},
{"x":-0.25,"y":1.35,"lr":-0.58},{"x":-0.15,"y":1.35,"lr":-0.24},{"x":-0.05,"y":1.35,"lr":-0.06},{"x":0.05,"y":1.35,"lr":-0.02},{"x":0.15,"y":1.35,"lr":-0.02},{"x":0.25,"y":1.35,"lr":-0.03},{"x":0.35,"y":1.35,"lr":-0.03},{"x":0.45,"y":1.35,"lr":-0.04},{"x":0.55,"y":1.35,"lr":-0.04},{"x":0.65,"y":1.35,"lr":-0.05},{"x":0.75,"y":1.35,"lr":-0.04},{"x":0.85,"y":1.35,"lr":-0.02},{"x":0.95,"y":1.35,"lr":0.05},{"x":1.05,"y":1.35,"lr":0.1},
{"x":-0.25,"y":1.45,"lr":-0.55},{"x":-0.15,"y":1.45,"lr":-0.22},{"x":-0.05,"y":1.45,"lr":-0.05},{"x":0.05,"y":1.45,"lr":-0.01},{"x":0.15,"y":1.45,"lr":-0.01},{"x":0.25,"y":1.45,"lr":-0.02},{"x":0.35,"y":1.45,"lr":-0.03},{"x":0.45,"y":1.45,"lr":-0.03},{"x":0.55,"y":1.45,"lr":-0.04},{"x":0.65,"y":1.45,"lr":-0.03},{"x":0.75,"y":1.45,"lr":-0.01},{"x":0.85,"y":1.45,"lr":0.06},{"x":0.95,"y":1.45,"lr":0.15},
{"x":-0.25,"y":1.55,"lr":-0.5},{"x":-0.15,"y":1.55,"lr":-0.2},{"x":-0.05,"y":1.55,"lr":-0.05},{"x":0.05,"y":1.55,"lr":0},{"x":0.15,"y":1.55,"lr":0},{"x":0.25,"y":1.55,"lr":-0.01},{"x":0.35,"y":1.55,"lr":-0.02},{"x":0.45,"y":1.55,"lr":-0.02},{"x":0.55,"y":1.55,"lr":-0.02},{"x":0.65,"y":1.55,"lr":-0.01},{"x":0.75,"y":1.55,"lr":0.1},{"x":0.85,"y":1.55,"lr":0.18},
{"x":-0.25,"y":1.65,"lr":-0.45},{"x":-0.15,"y":1.65,"lr":-0.18},{"x":-0.05,"y":1.65,"lr":-0.04},{"x":0.05,"y":1.65,"lr":0.03},{"x":0.15,"y":1.65,"lr":0.04},{"x":0.25,"y":1.65,"lr":0.03},{"x":0.35,"y":1.65,"lr":0.02},{"x":0.45,"y":1.65,"lr":0.01},{"x":0.55,"y":1.65,"lr":0.02},{"x":0.65,"y":1.65,"lr":0.12},{"x":0.75,"y":1.65,"lr":0.22},
{"x":-0.25,"y":1.75,"lr":-0.4},{"x":-0.15,"y":1.75,"lr":-0.12},{"x":-0.05,"y":1.75,"lr":0.02},{"x":0.05,"y":1.75,"lr":0.05},{"x":0.15,"y":1.75,"lr":0.06},{"x":0.25,"y":1.75,"lr":0.06},{"x":0.35,"y":1.75,"lr":0.07},{"x":0.45,"y":1.75,"lr":0.08},{"x":0.55,"y":1.75,"lr":0.15},{"x":0.65,"y":1.75,"lr":0.3},
{"x":-0.25,"y":1.85,"lr":-0.35},{"x":-0.15,"y":1.85,"lr":-0.08},{"x":-0.05,"y":1.85,"lr":0.05},{"x":0.05,"y":1.85,"lr":0.07},{"x":0.15,"y":1.85,"lr":0.08},{"x":0.25,"y":1.85,"lr":0.08},{"x":0.35,"y":1.85,"lr":0.1},{"x":0.45,"y":1.85,"lr":0.2},{"x":0.55,"y":1.85,"lr":0.35},
{"x":-0.25,"y":1.95,"lr":-0.3},{"x":-0.15,"y":1.95,"lr":-0.02},{"x":-0.05,"y":1.95,"lr":0.08},{"x":0.05,"y":1.95,"lr":0.1},{"x":0.15,"y":1.95,"lr":0.1},{"x":0.25,"y":1.95,"lr":0.12},{"x":0.35,"y":1.95,"lr":0.25},{"x":0.45,"y":1.95,"lr":0.45},
{"x":-0.25,"y":2.05,"lr":-0.22},{"x":-0.15,"y":2.05,"lr":0.05},{"x":-0.05,"y":2.05,"lr":0.12},{"x":0.05,"y":2.05,"lr":0.12},{"x":0.15,"y":2.05,"lr":0.15},{"x":0.25,"y":2.05,"lr":0.35},{"x":0.35,"y":2.05,"lr":0.6},
{"x":-0.25,"y":2.15,"lr":-0.18},{"x":-0.15,"y":2.15,"lr":0.1},{"x":-0.05,"y":2.15,"lr":0.2},{"x":0.05,"y":2.15,"lr":0.2},{"x":0.15,"y":2.15,"lr":0.4},{"x":0.25,"y":2.15,"lr":0.8},
{"x":-0.25,"y":2.25,"lr":-0.1},{"x":-0.15,"y":2.25,"lr":0.2},{"x":-0.05,"y":2.25,"lr":0.35},{"x":0.05,"y":2.25,"lr":0.55},{"x":0.15,"y":2.25,"lr":1.05},
{"x":-0.25,"y":2.35,"lr":0.03},{"x":-0.15,"y":2.35,"lr":0.35},{"x":-0.05,"y":2.35,"lr":0.75},{"x":0.05,"y":2.35,"lr":1.0},
{"x":-0.25,"y":2.45,"lr":0.4},{"x":-0.15,"y":2.45,"lr":1.0},{"x":-0.05,"y":2.45,"lr":1.05},
{"x":-0.25,"y":2.55,"lr":1.1},{"x":-0.15,"y":2.55,"lr":1.15}
],
"s3":[
{"x":-0.25,"y":0.05,"lr":-1.1},{"x":-0.15,"y":0.05,"lr":-1.05},{"x":-0.05,"y":0.05,"lr":-0.65},{"x":0.05,"y":0.05,"lr":-0.45},{"x":0.15,"y":0.05,"lr":-0.3},{"x":0.25,"y":0.05,"lr":-0.22},{"x":0.35,"y":0.05,"lr":-0.14},{"x":0.45,"y":0.05,"lr":-0.08},{"x":0.55,"y":0.05,"lr":-0.04},{"x":0.65,"y":0.05,"lr":-0.02},{"x":0.75,"y":0.05,"lr":-0.01},{"x":0.85,"y":0.05,"lr":0},{"x":0.95,"y":0.05,"lr":0.01},{"x":1.05,"y":0.05,"lr":0.01},{"x":1.15,"y":0.05,"lr":0.02},{"x":1.25,"y":0.05,"lr":0.03},{"x":1.35,"y":0.05,"lr":0.03},{"x":1.45,"y":0.05,"lr":0.04},{"x":1.55,"y":0.05,"lr":0.04},{"x":1.65,"y":0.05,"lr":0.05},{"x":1.75,"y":0.05,"lr":0.04},{"x":1.85,"y":0.05,"lr":0.04},{"x":1.95,"y":0.05,"lr":0.03},{"x":2.05,"y":0.05,"lr":0.03},{"x":2.15,"y":0.05,"lr":0.02},{"x":2.25,"y":0.05,"lr":0.02},{"x":2.35,"y":0.05,"lr":0.02},
{"x":-0.25,"y":0.15,"lr":-1.1},{"x":-0.15,"y":0.15,"lr":-1.05},{"x":-0.05,"y":0.15,"lr":-0.65},{"x":0.05,"y":0.15,"lr":-0.45},{"x":0.15,"y":0.15,"lr":-0.3},{"x":0.25,"y":0.15,"lr":-0.2},{"x":0.35,"y":0.15,"lr":-0.12},{"x":0.45,"y":0.15,"lr":-0.06},{"x":0.55,"y":0.15,"lr":-0.04},{"x":0.65,"y":0.15,"lr":-0.02},{"x":0.75,"y":0.15,"lr":-0.01},{"x":0.85,"y":0.15,"lr":0},{"x":0.95,"y":0.15,"lr":0},{"x":1.05,"y":0.15,"lr":0.01},{"x":1.15,"y":0.15,"lr":0.02},{"x":1.25,"y":0.15,"lr":0.02},{"x":1.35,"y":0.15,"lr":0.03},{"x":1.45,"y":0.15,"lr":0.04},{"x":1.55,"y":0.15,"lr":0.04},{"x":1.65,"y":0.15,"lr":0.04},{"x":1.75,"y":0.15,"lr":0.04},{"x":1.85,"y":0.15,"lr":0.03},{"x":1.95,"y":0.15,"lr":0.03},{"x":2.05,"y":0.15,"lr":0.02},{"x":2.15,"y":0.15,"lr":0.02},{"x":2.25,"y":0.15,"lr":0.03},
{"x":-0.25,"y":0.25,"lr":-1.1},{"x":-0.15,"y":0.25,"lr":-1.0},{"x":-0.05,"y":0.25,"lr":-0.62},{"x":0.05,"y":0.25,"lr":-0.45},{"x":0.15,"y":0.25,"lr":-0.3},{"x":0.25,"y":0.25,"lr":-0.2},{"x":0.35,"y":0.25,"lr":-0.12},{"x":0.45,"y":0.25,"lr":-0.07},{"x":0.55,"y":0.25,"lr":-0.04},{"x":0.65,"y":0.25,"lr":-0.03},{"x":0.75,"y":0.25,"lr":-0.02},{"x":0.85,"y":0.25,"lr":-0.01},{"x":0.95,"y":0.25,"lr":0},{"x":1.05,"y":0.25,"lr":0},{"x":1.15,"y":0.25,"lr":0.01},{"x":1.25,"y":0.25,"lr":0.02},{"x":1.35,"y":0.25,"lr":0.03},{"x":1.45,"y":0.25,"lr":0.03},{"x":1.55,"y":0.25,"lr":0.04},{"x":1.65,"y":0.25,"lr":0.04},{"x":1.75,"y":0.25,"lr":0.04},{"x":1.85,"y":0.25,"lr":0.03},{"x":1.95,"y":0.25,"lr":0.03},{"x":2.05,"y":0.25,"lr":0.02},{"x":2.15,"y":0.25,"lr":0.02},
{"x":-0.25,"y":0.35,"lr":-1.05},{"x":-0.15,"y":0.35,"lr":-1.0},{"x":-0.05,"y":0.35,"lr":-0.6},{"x":0.05,"y":0.35,"lr":-0.42},{"x":0.15,"y":0.35,"lr":-0.3},{"x":0.25,"y":0.35,"lr":-0.2},{"x":0.35,"y":0.35,"lr":-0.12},{"x":0.45,"y":0.35,"lr":-0.07},{"x":0.55,"y":0.35,"lr":-0.04},{"x":0.65,"y":0.35,"lr":-0.03},{"x":0.75,"y":0.35,"lr":-0.02},{"x":0.85,"y":0.35,"lr":-0.01},{"x":0.95,"y":0.35,"lr":-0.01},{"x":1.05,"y":0.35,"lr":0},{"x":1.15,"y":0.35,"lr":0.01},{"x":1.25,"y":0.35,"lr":0.01},{"x":1.35,"y":0.35,"lr":0.02},{"x":1.45,"y":0.35,"lr":0.03},{"x":1.55,"y":0.35,"lr":0.03},{"x":1.65,"y":0.35,"lr":0.04},{"x":1.75,"y":0.35,"lr":0.03},{"x":1.85,"y":0.35,"lr":0.03},{"x":1.95,"y":0.35,"lr":0.03},{"x":2.05,"y":0.35,"lr":0.03},
{"x":-0.25,"y":0.45,"lr":-1.1},{"x":-0.15,"y":0.45,"lr":-0.95},{"x":-0.05,"y":0.45,"lr":-0.55},{"x":0.05,"y":0.45,"lr":-0.38},{"x":0.15,"y":0.45,"lr":-0.27},{"x":0.25,"y":0.45,"lr":-0.17},{"x":0.35,"y":0.45,"lr":-0.1},{"x":0.45,"y":0.45,"lr":-0.06},{"x":0.55,"y":0.45,"lr":-0.04},{"x":0.65,"y":0.45,"lr":-0.03},{"x":0.75,"y":0.45,"lr":-0.02},{"x":0.85,"y":0.45,"lr":-0.02},{"x":0.95,"y":0.45,"lr":-0.01},{"x":1.05,"y":0.45,"lr":0},{"x":1.15,"y":0.45,"lr":0},{"x":1.25,"y":0.45,"lr":0.01},{"x":1.35,"y":0.45,"lr":0.02},{"x":1.45,"y":0.45,"lr":0.02},{"x":1.55,"y":0.45,"lr":0.03},{"x":1.65,"y":0.45,"lr":0.03},{"x":1.75,"y":0.45,"lr":0.03},{"x":1.85,"y":0.45,"lr":0.03},{"x":1.95,"y":0.45,"lr":0.04},
{"x":-0.25,"y":0.55,"lr":-1.05},{"x":-0.15,"y":0.55,"lr":-0.9},{"x":-0.05,"y":0.55,"lr":-0.52},{"x":0.05,"y":0.55,"lr":-0.35},{"x":0.15,"y":0.55,"lr":-0.25},{"x":0.25,"y":0.55,"lr":-0.15},{"x":0.35,"y":0.55,"lr":-0.1},{"x":0.45,"y":0.55,"lr":-0.06},{"x":0.55,"y":0.55,"lr":-0.04},{"x":0.65,"y":0.55,"lr":-0.03},{"x":0.75,"y":0.55,"lr":-0.02},{"x":0.85,"y":0.55,"lr":-0.02},{"x":0.95,"y":0.55,"lr":-0.01},{"x":1.05,"y":0.55,"lr":-0.01},{"x":1.15,"y":0.55,"lr":0},{"x":1.25,"y":0.55,"lr":0},{"x":1.35,"y":0.55,"lr":0.01},{"x":1.45,"y":0.55,"lr":0.02},{"x":1.55,"y":0.55,"lr":0.02},{"x":1.65,"y":0.55,"lr":0.03},{"x":1.75,"y":0.55,"lr":0.03},{"x":1.85,"y":0.55,"lr":0.04},
{"x":-0.25,"y":0.65,"lr":-1.0},{"x":-0.15,"y":0.65,"lr":-0.85},{"x":-0.05,"y":0.65,"lr":-0.5},{"x":0.05,"y":0.65,"lr":-0.33},{"x":0.15,"y":0.65,"lr":-0.22},{"x":0.25,"y":0.65,"lr":-0.14},{"x":0.35,"y":0.65,"lr":-0.08},{"x":0.45,"y":0.65,"lr":-0.05},{"x":0.55,"y":0.65,"lr":-0.03},{"x":0.65,"y":0.65,"lr":-0.02},{"x":0.75,"y":0.65,"lr":-0.02},{"x":0.85,"y":0.65,"lr":-0.02},{"x":0.95,"y":0.65,"lr":-0.01},{"x":1.05,"y":0.65,"lr":-0.01},{"x":1.15,"y":0.65,"lr":0},{"x":1.25,"y":0.65,"lr":0},{"x":1.35,"y":0.65,"lr":0.01},{"x":1.45,"y":0.65,"lr":0.01},{"x":1.55,"y":0.65,"lr":0.02},{"x":1.65,"y":0.65,"lr":0.03},{"x":1.75,"y":0.65,"lr":0.04},
{"x":-0.25,"y":0.75,"lr":-1.05},{"x":-0.15,"y":0.75,"lr":-0.78},{"x":-0.05,"y":0.75,"lr":-0.45},{"x":0.05,"y":0.75,"lr":-0.3},{"x":0.15,"y":0.75,"lr":-0.2},{"x":0.25,"y":0.75,"lr":-0.12},{"x":0.35,"y":0.75,"lr":-0.07},{"x":0.45,"y":0.75,"lr":-0.04},{"x":0.55,"y":0.75,"lr":-0.03},{"x":0.65,"y":0.75,"lr":-0.02},{"x":0.75,"y":0.75,"lr":-0.02},{"x":0.85,"y":0.75,"lr":-0.01},{"x":0.95,"y":0.75,"lr":-0.01},{"x":1.05,"y":0.75,"lr":0},{"x":1.15,"y":0.75,"lr":0},{"x":1.25,"y":0.75,"lr":0.01},{"x":1.35,"y":0.75,"lr":0.01},{"x":1.45,"y":0.75,"lr":0.02},{"x":1.55,"y":0.75,"lr":0.03},{"x":1.65,"y":0.75,"lr":0.05},
{"x":-0.25,"y":0.85,"lr":-1.0},{"x":-0.15,"y":0.85,"lr":-0.75},{"x":-0.05,"y":0.85,"lr":-0.42},{"x":0.05,"y":0.85,"lr":-0.28},{"x":0.15,"y":0.85,"lr":-0.18},{"x":0.25,"y":0.85,"lr":-0.1},{"x":0.35,"y":0.85,"lr":-0.06},{"x":0.45,"y":0.85,"lr":-0.03},{"x":0.55,"y":0.85,"lr":-0.02},{"x":0.65,"y":0.85,"lr":-0.01},{"x":0.75,"y":0.85,"lr":-0.01},{"x":0.85,"y":0.85,"lr":0},{"x":0.95,"y":0.85,"lr":0},{"x":1.05,"y":0.85,"lr":0},{"x":1.15,"y":0.85,"lr":0.01},{"x":1.25,"y":0.85,"lr":0.01},{"x":1.35,"y":0.85,"lr":0.02},{"x":1.45,"y":0.85,"lr":0.03},{"x":1.55,"y":0.85,"lr":0.06},
{"x":-0.25,"y":0.95,"lr":-1.05},{"x":-0.15,"y":0.95,"lr":-0.72},{"x":-0.05,"y":0.95,"lr":-0.4},{"x":0.05,"y":0.95,"lr":-0.25},{"x":0.15,"y":0.95,"lr":-0.15},{"x":0.25,"y":0.95,"lr":-0.08},{"x":0.35,"y":0.95,"lr":-0.04},{"x":0.45,"y":0.95,"lr":-0.01},{"x":0.55,"y":0.95,"lr":0},{"x":0.65,"y":0.95,"lr":0},{"x":0.75,"y":0.95,"lr":0},{"x":0.85,"y":0.95,"lr":0.01},{"x":0.95,"y":0.95,"lr":0.01},{"x":1.05,"y":0.95,"lr":0.01},{"x":1.15,"y":0.95,"lr":0.02},{"x":1.25,"y":0.95,"lr":0.02},{"x":1.35,"y":0.95,"lr":0.04},{"x":1.45,"y":0.95,"lr":0.08},
{"x":-0.25,"y":1.05,"lr":-1.0},{"x":-0.15,"y":1.05,"lr":-0.7},{"x":-0.05,"y":1.05,"lr":-0.35},{"x":0.05,"y":1.05,"lr":-0.2},{"x":0.15,"y":1.05,"lr":-0.1},{"x":0.25,"y":1.05,"lr":-0.05},{"x":0.35,"y":1.05,"lr":0},{"x":0.45,"y":1.05,"lr":0.01},{"x":0.55,"y":1.05,"lr":0.02},{"x":0.65,"y":1.05,"lr":0.02},{"x":0.75,"y":1.05,"lr":0.02},{"x":0.85,"y":1.05,"lr":0.02},{"x":0.95,"y":1.05,"lr":0.03},{"x":1.05,"y":1.05,"lr":0.03},{"x":1.15,"y":1.05,"lr":0.04},{"x":1.25,"y":1.05,"lr":0.06},{"x":1.35,"y":1.05,"lr":0.1},
{"x":-0.25,"y":1.15,"lr":-1.05},{"x":-0.15,"y":1.15,"lr":-0.65},{"x":-0.05,"y":1.15,"lr":-0.3},{"x":0.05,"y":1.15,"lr":-0.15},{"x":0.15,"y":1.15,"lr":-0.05},{"x":0.25,"y":1.15,"lr":0},{"x":0.35,"y":1.15,"lr":0.03},{"x":0.45,"y":1.15,"lr":0.04},{"x":0.55,"y":1.15,"lr":0.04},{"x":0.65,"y":1.15,"lr":0.04},{"x":0.75,"y":1.15,"lr":0.04},{"x":0.85,"y":1.15,"lr":0.05},{"x":0.95,"y":1.15,"lr":0.05},{"x":1.05,"y":1.15,"lr":0.06},{"x":1.15,"y":1.15,"lr":0.09},{"x":1.25,"y":1.15,"lr":0.15},
{"x":-0.25,"y":1.25,"lr":-1.0},{"x":-0.15,"y":1.25,"lr":-0.6},{"x":-0.05,"y":1.25,"lr":-0.25},{"x":0.05,"y":1.25,"lr":-0.08},{"x":0.15,"y":1.25,"lr":0},{"x":0.25,"y":1.25,"lr":0.05},{"x":0.35,"y":1.25,"lr":0.07},{"x":0.45,"y":1.25,"lr":0.07},{"x":0.55,"y":1.25,"lr":0.07},{"x":0.65,"y":1.25,"lr":0.07},{"x":0.75,"y":1.25,"lr":0.08},{"x":0.85,"y":1.25,"lr":0.08},{"x":0.95,"y":1.25,"lr":0.1},{"x":1.05,"y":1.25,"lr":0.14},{"x":1.15,"y":1.25,"lr":0.2},
{"x":-0.25,"y":1.35,"lr":-1.02},{"x":-0.15,"y":1.35,"lr":-0.55},{"x":-0.05,"y":1.35,"lr":-0.15},{"x":0.05,"y":1.35,"lr":0},{"x":0.15,"y":1.35,"lr":0.05},{"x":0.25,"y":1.35,"lr":0.09},{"x":0.35,"y":1.35,"lr":0.1},{"x":0.45,"y":1.35,"lr":0.1},{"x":0.55,"y":1.35,"lr":0.1},{"x":0.65,"y":1.35,"lr":0.11},{"x":0.75,"y":1.35,"lr":0.11},{"x":0.85,"y":1.35,"lr":0.12},{"x":0.95,"y":1.35,"lr":0.16},{"x":1.05,"y":1.35,"lr":0.25},
{"x":-0.25,"y":1.45,"lr":-1.0},{"x":-0.15,"y":1.45,"lr":-0.5},{"x":-0.05,"y":1.45,"lr":-0.05},{"x":0.05,"y":1.45,"lr":0.05},{"x":0.15,"y":1.45,"lr":0.1},{"x":0.25,"y":1.45,"lr":0.14},{"x":0.35,"y":1.45,"lr":0.15},{"x":0.45,"y":1.45,"lr":0.15},{"x":0.55,"y":1.45,"lr":0.16},{"x":0.65,"y":1.45,"lr":0.16},{"x":0.75,"y":1.45,"lr":0.18},{"x":0.85,"y":1.45,"lr":0.22},{"x":0.95,"y":1.45,"lr":0.3},
{"x":-0.25,"y":1.55,"lr":-1.0},{"x":-0.15,"y":1.55,"lr":-0.35},{"x":-0.05,"y":1.55,"lr":0.03},{"x":0.05,"y":1.55,"lr":0.12},{"x":0.15,"y":1.55,"lr":0.18},{"x":0.25,"y":1.55,"lr":0.22},{"x":0.35,"y":1.55,"lr":0.22},{"x":0.45,"y":1.55,"lr":0.23},{"x":0.55,"y":1.55,"lr":0.24},{"x":0.65,"y":1.55,"lr":0.26},{"x":0.75,"y":1.55,"lr":0.3},{"x":0.85,"y":1.55,"lr":0.4},
{"x":-0.25,"y":1.65,"lr":-0.95},{"x":-0.15,"y":1.65,"lr":-0.15},{"x":-0.05,"y":1.65,"lr":0.1},{"x":0.05,"y":1.65,"lr":0.2},{"x":0.15,"y":1.65,"lr":0.25},{"x":0.25,"y":1.65,"lr":0.3},{"x":0.35,"y":1.65,"lr":0.3},{"x":0.45,"y":1.65,"lr":0.35},{"x":0.55,"y":1.65,"lr":0.4},{"x":0.65,"y":1.65,"lr":0.45},{"x":0.75,"y":1.65,"lr":0.5},
{"x":-0.25,"y":1.75,"lr":-0.62},{"x":-0.15,"y":1.75,"lr":-0.05},{"x":-0.05,"y":1.75,"lr":0.15},{"x":0.05,"y":1.75,"lr":0.25},{"x":0.15,"y":1.75,"lr":0.35},{"x":0.25,"y":1.75,"lr":0.4},{"x":0.35,"y":1.75,"lr":0.4},{"x":0.45,"y":1.75,"lr":0.45},{"x":0.55,"y":1.75,"lr":0.55},{"x":0.65,"y":1.75,"lr":0.65},
{"x":-0.25,"y":1.85,"lr":-0.6},{"x":-0.15,"y":1.85,"lr":0.03},{"x":-0.05,"y":1.85,"lr":0.2},{"x":0.05,"y":1.85,"lr":0.35},{"x":0.15,"y":1.85,"lr":0.45},{"x":0.25,"y":1.85,"lr":0.5},{"x":0.35,"y":1.85,"lr":0.55},{"x":0.45,"y":1.85,"lr":0.65},{"x":0.55,"y":1.85,"lr":0.85},
{"x":-0.25,"y":1.95,"lr":-0.6},{"x":-0.15,"y":1.95,"lr":0.1},{"x":-0.05,"y":1.95,"lr":0.3},{"x":0.05,"y":1.95,"lr":0.5},{"x":0.15,"y":1.95,"lr":0.6},{"x":0.25,"y":1.95,"lr":0.7},{"x":0.35,"y":1.95,"lr":0.85},{"x":0.45,"y":1.95,"lr":1.0},
{"x":-0.25,"y":2.05,"lr":-0.3},{"x":-0.15,"y":2.05,"lr":0.2},{"x":-0.05,"y":2.05,"lr":0.5},{"x":0.05,"y":2.05,"lr":0.75},{"x":0.15,"y":2.05,"lr":0.85},{"x":0.25,"y":2.05,"lr":1.0},{"x":0.35,"y":2.05,"lr":1.05},
{"x":-0.25,"y":2.15,"lr":-0.1},{"x":-0.15,"y":2.15,"lr":0.4},{"x":-0.05,"y":2.15,"lr":0.85},{"x":0.05,"y":2.15,"lr":1.0},{"x":0.15,"y":2.15,"lr":1.05},{"x":0.25,"y":2.15,"lr":1.1},
{"x":-0.25,"y":2.25,"lr":0.35},{"x":-0.15,"y":2.25,"lr":1.0},{"x":-0.05,"y":2.25,"lr":1.1},{"x":0.05,"y":2.25,"lr":1.1},{"x":0.15,"y":2.25,"lr":1.1},
{"x":-0.25,"y":2.35,"lr":1.1},{"x":-0.15,"y":2.35,"lr":1.1}
]},
"spacing":1,
"resolve":{"scale":{"color":"independent"}},
"hconcat":[
{"width":222,"height":222,
"layer":[
{"data":{"name":"s1"},"mark":{"type":"square","size":36,"opacity":1,"strokeWidth":0},
"encoding":{
"x":{"field":"x","type":"quantitative","scale":{"domain":[-0.5,3.5],"nice":false,"zero":false},"axis":{"values":[0,1,2,3],"format":"d","title":"log₁₀(1/θ)","titlePadding":3}},
"y":{"field":"y","type":"quantitative","scale":{"domain":[-0.5,3.5],"nice":false,"zero":false},"axis":{"values":[0,1,2,3],"format":"d","title":["|κ|\u00a0\u00a0\u00a0","———","log₁₀ GeV/c"],"titleLineHeight":8,"titleAlign":"right","titleY":55,"titlePadding":16}},
"color":{"field":"lr","type":"quantitative","scale":{"domain":[-1,1],"scheme":"redblue","reverse":true,"clamp":true},"legend":null}}},
{"data":{"values":[{}]},"mark":{"type":"text","align":"left","baseline":"alphabetic"},"encoding":{"x":{"datum":-0.39,"type":"quantitative"},"y":{"datum":3.05,"type":"quantitative"},"text":{"value":"Splitting 1"}}},
{"data":{"values":[{}]},"mark":{"type":"text","align":"right","baseline":"alphabetic","fontStyle":"italic"},"encoding":{"x":{"datum":1.38,"type":"quantitative"},"y":{"datum":3.05,"type":"quantitative"},"text":{"value":"E"}}},
{"data":{"values":[{}]},"mark":{"type":"text","align":"right","baseline":"alphabetic","fontSize":10.5},"encoding":{"x":{"datum":1.68,"type":"quantitative"},"y":{"datum":2.98,"type":"quantitative"},"text":{"value":"jet"}}},
{"data":{"values":[{}]},"mark":{"type":"text","align":"right","baseline":"alphabetic"},"encoding":{"x":{"datum":3.39,"type":"quantitative"},"y":{"datum":3.05,"type":"quantitative"},"text":{"value":"= 1000 GeV"}}},
{"data":{"values":[{}]},"mark":{"type":"text","align":"right","baseline":"alphabetic"},"encoding":{"x":{"datum":3.39,"type":"quantitative"},"y":{"datum":2.51,"type":"quantitative"},"text":{"value":"1 GeV/c < |κ|"}}},
{"data":{"values":[{}]},"mark":{"type":"text","align":"right","baseline":"alphabetic"},"encoding":{"x":{"datum":3.39,"type":"quantitative"},"y":{"datum":2.0,"type":"quantitative"},"text":{"value":"θ² < 4"}}},
{"data":{"values":[{}]},"mark":{"type":"text","align":"right","baseline":"alphabetic"},"encoding":{"x":{"datum":3.39,"type":"quantitative"},"y":{"datum":1.49,"type":"quantitative"},"text":{"value":"|κ|² scheme"}}}
]},
{"width":222,"height":222,
"layer":[
{"data":{"name":"s2"},"mark":{"type":"square","size":36,"opacity":1,"strokeWidth":0},
"encoding":{
"x":{"field":"x","type":"quantitative","scale":{"domain":[-0.5,3.5],"nice":false,"zero":false},"axis":{"values":[0,1,2,3],"format":"d","title":"log₁₀(1/θ)","titlePadding":3}},
"y":{"field":"y","type":"quantitative","scale":{"domain":[-0.5,3.5],"nice":false,"zero":false},"axis":{"values":[0,1,2,3],"labels":false,"title":null}},
"color":{"field":"lr","type":"quantitative","scale":{"domain":[-1,1],"scheme":"redblue","reverse":true,"clamp":true},"legend":null}}},
{"data":{"values":[{}]},"mark":{"type":"text","align":"left","baseline":"alphabetic"},"encoding":{"x":{"datum":-0.39,"type":"quantitative"},"y":{"datum":3.05,"type":"quantitative"},"text":{"value":"Splitting 2"}}}
]},
{"spacing":3,
"resolve":{"scale":{"color":"independent"}},
"hconcat":[
{"width":222,"height":222,
"layer":[
{"data":{"name":"s3"},"mark":{"type":"square","size":36,"opacity":1,"strokeWidth":0},
"encoding":{
"x":{"field":"x","type":"quantitative","scale":{"domain":[-0.5,3.5],"nice":false,"zero":false},"axis":{"values":[0,1,2,3],"format":"d","title":"log₁₀(1/θ)","titlePadding":3}},
"y":{"field":"y","type":"quantitative","scale":{"domain":[-0.5,3.5],"nice":false,"zero":false},"axis":{"values":[0,1,2,3],"labels":false,"title":null}},
"color":{"field":"lr","type":"quantitative","scale":{"domain":[-1,1],"scheme":"redblue","reverse":true,"clamp":true},
"legend":{"title":null,"values":[-1,0,1],"labelExpr":"datum.value > 0.5 ? '10¹' : (datum.value < -0.5 ? '10⁻¹' : '10⁰')","gradientLength":222,"gradientThickness":18,"offset":7,"labelFontSize":14.5,"labelFont":"DejaVu Serif","labelColor":"#111","gradientStrokeColor":"#222","gradientStrokeWidth":0.8,"labelOverlap":false,"labelOffset":4,"padding":0}}}},
{"data":{"values":[{}]},"mark":{"type":"text","align":"left","baseline":"alphabetic"},"encoding":{"x":{"datum":-0.39,"type":"quantitative"},"y":{"datum":3.05,"type":"quantitative"},"text":{"value":"Splitting 3"}}}
]},
{"width":1,"height":222,"view":{"stroke":null,"fill":null},
"data":{"values":[{}]},"mark":{"type":"text"},
"encoding":{"text":{"value":""},"y":{"datum":0,"type":"quantitative","scale":{"domain":[0,1]},"axis":{"title":"θ² ordering / τ⁻¹ ordering","orient":"left","titleAngle":270,"ticks":false,"labels":false,"domain":false,"grid":false,"titlePadding":0}}}}
]}
]
}
